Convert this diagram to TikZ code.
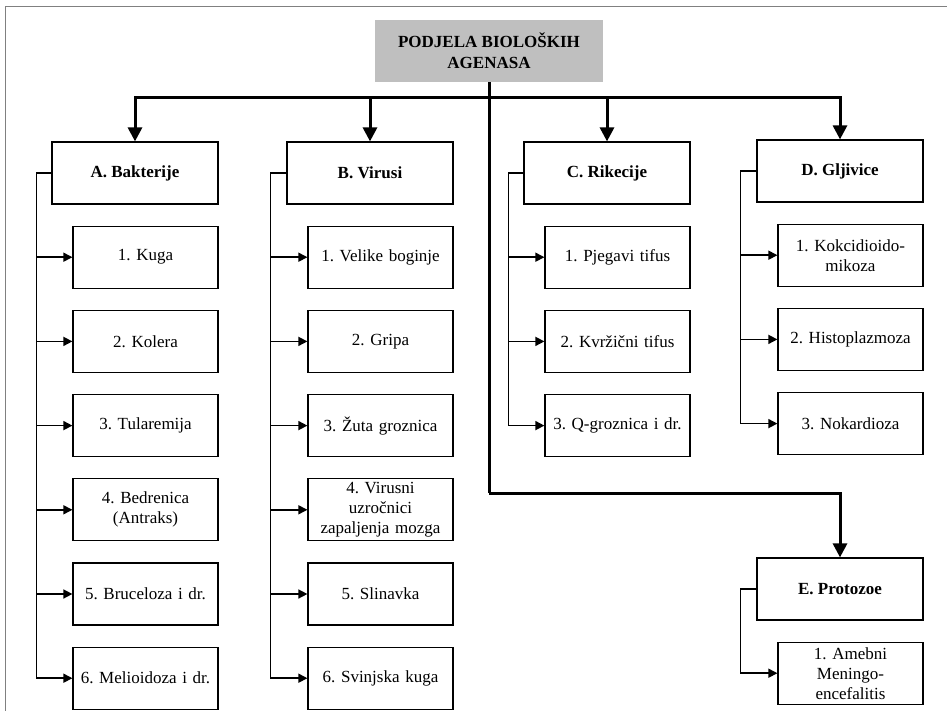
\documentclass[tikz,border=0pt]{standalone}
\usepackage{fontspec}
\setmainfont{Liberation Serif}
\usetikzlibrary{arrows.meta, positioning, calc}
\frenchspacing

\begin{document}
\begin{tikzpicture}[x=1pt, y=-1pt, node distance=21pt,
  head/.style={draw, rectangle, line width=1.2pt, minimum width=166pt, minimum height=62pt, font=\fontsize{17}{20}\selectfont\bfseries},
  item/.style={draw, rectangle, line width=1.2pt, minimum width=145pt, minimum height=62pt, text width=143pt, inner sep=0pt, align=center, font=\fontsize{17}{20}\selectfont},
  bus/.style={line width=3pt, -{Triangle[length=14pt, width=14pt]}},
  sub/.style={line width=1.5pt, -{Triangle[length=9pt, width=9pt]}}]
\useasboundingbox (0,0) rectangle (947,711);
% Frame
\draw[gray, line width=1pt] (5,711) -- (5,7) -- (947,7);

% Title and groups
\node[fill=gray!50, minimum width=228pt, minimum height=62pt, align=center, font=\fontsize{17}{21}\selectfont\bfseries] (title) at (489,51) {PODJELA BIOLOŠKIH\\AGENASA};
\node[head] (A) at (135,173) {A. Bakterije};
\node[head] (B) at (370,173) {B. Virusi};
\node[head] (C) at (607,173) {C. Rikecije};
\node[head] (D) at (840,171) {D. Gljivice};
\node[head] (E) at (840,589) {E. Protozoe};

% A. Bakterije
\node[item, below left=21pt and 0pt of A.south east] (a1) {1. Kuga};
\node[item, below=of a1] (a2) {2. Kolera};
\node[item, below=of a2] (a3) {3. Tularemija};
\node[item, below=of a3] (a4) {4. Bedrenica\\(Antraks)};
\node[item, below=of a4] (a5) {5. Bruceloza i dr.};
\node[item, below=of a5] (a6) {6. Melioidoza i dr.};

% B. Virusi
\node[item, below left=21pt and 0pt of B.south east] (b1) {1. Velike boginje};
\node[item, below=of b1] (b2) {2. Gripa};
\node[item, below=of b2] (b3) {3. Žuta groznica};
\node[item, below=of b3] (b4) {4. Virusni\\uzročnici\\zapaljenja mozga};
\node[item, below=of b4] (b5) {5. Slinavka};
\node[item, below=of b5] (b6) {6. Svinjska kuga};

% C. Rikecije
\node[item, below left=21pt and 0pt of C.south east] (c1) {1. Pjegavi tifus};
\node[item, below=of c1] (c2) {2. Kvržični tifus};
\node[item, below=of c2] (c3) {3. Q-groznica i dr.};

% D. Gljivice
\node[item, below left=21pt and 0pt of D.south east] (d1) {1. Kokcidioido-\\mikoza};
\node[item, below=of d1] (d2) {2. Histoplazmoza};
\node[item, below=of d2] (d3) {3. Nokardioza};

% E. Protozoe
\node[item, below left=21pt and 0pt of E.south east] (e1) {1. Amebni\\Meningo-\\encefalitis};

% Main arrows
\coordinate (bus) at (489,98);
\coordinate (turn) at (489,493);
\draw[line width=3pt] (title.south) -- (turn);
\draw[bus] (bus) -| (A.north);
\draw[bus] (bus) -| (B.north);
\draw[bus] (bus) -| (C.north);
\draw[bus] (bus) -| (D.north);
\draw[bus] (turn) -| (E.north);

% Sub arrows
\draw[sub] (A.west) -- ++(-15,0) |- (a1.west);
\draw[sub] (A.west) -- ++(-15,0) |- (a2.west);
\draw[sub] (A.west) -- ++(-15,0) |- (a3.west);
\draw[sub] (A.west) -- ++(-15,0) |- (a4.west);
\draw[sub] (A.west) -- ++(-15,0) |- (a5.west);
\draw[sub] (A.west) -- ++(-15,0) |- (a6.west);

\draw[sub] (B.west) -- ++(-16,0) |- (b1.west);
\draw[sub] (B.west) -- ++(-16,0) |- (b2.west);
\draw[sub] (B.west) -- ++(-16,0) |- (b3.west);
\draw[sub] (B.west) -- ++(-16,0) |- (b4.west);
\draw[sub] (B.west) -- ++(-16,0) |- (b5.west);
\draw[sub] (B.west) -- ++(-16,0) |- (b6.west);

\draw[sub] (C.west) -- ++(-15,0) |- (c1.west);
\draw[sub] (C.west) -- ++(-15,0) |- (c2.west);
\draw[sub] (C.west) -- ++(-15,0) |- (c3.west);

\draw[sub] (D.west) -- ++(-16,0) |- (d1.west);
\draw[sub] (D.west) -- ++(-16,0) |- (d2.west);
\draw[sub] (D.west) -- ++(-16,0) |- (d3.west);

\draw[sub] (E.west) -- ++(-16,0) |- (e1.west);
\end{tikzpicture}
\end{document}
